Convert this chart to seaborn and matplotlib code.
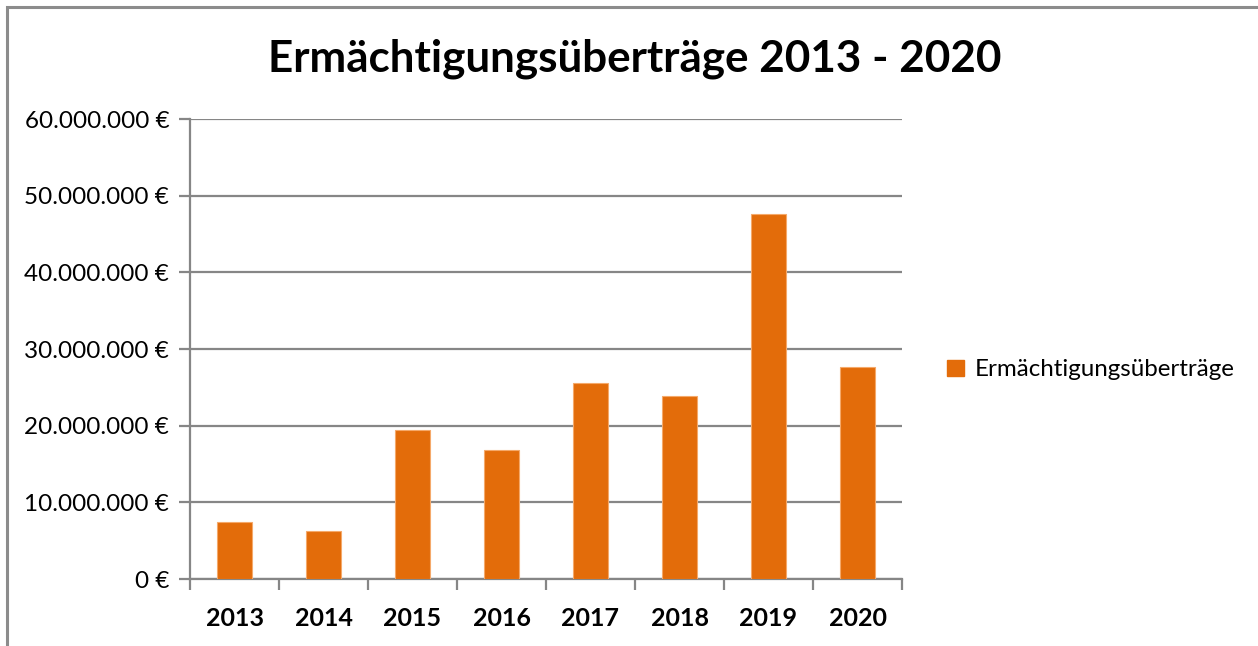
import matplotlib
matplotlib.use("Agg")
import matplotlib.pyplot as plt
import seaborn as sns
import numpy as np
import pandas as pd
from matplotlib.patches import Rectangle, Patch
from matplotlib.ticker import FuncFormatter

years = ["2013", "2014", "2015", "2016", "2017", "2018", "2019", "2020"]
values = [7.42e6, 6.20e6, 19.44e6, 16.84e6, 25.6e6, 23.87e6, 47.66e6, 27.6e6]
series_name = "Ermächtigungsüberträge"
title = "Ermächtigungsüberträge 2013 - 2020"

sns.set_theme(style="white")
plt.rcParams['font.family'] = ['Lato', 'DejaVu Sans']
plt.rcParams['text.color'] = 'black'
plt.rcParams['xtick.color'] = 'black'
plt.rcParams['ytick.color'] = 'black'

W, H = 1258, 646
fig = plt.figure(figsize=(W / 100, H / 100), dpi=100)
fig.patch.set_facecolor("white")

# outer chart frame
fig.patches.append(Rectangle((7 / W, -0.1), 1.2, 1 - 6.5 / H + 0.1, transform=fig.transFigure,
                             fill=False, edgecolor="#8c8c8c", linewidth=2.2, zorder=0))

ax = fig.add_axes([190 / W, 1 - 579 / H, (902 - 190) / W, (579 - 119) / H])
df = pd.DataFrame({"Jahr": years, "Wert": values})
orange = "#E36C0A"
sns.barplot(data=df, x="Jahr", y="Wert", color=orange, width=0.4, ax=ax,
            edgecolor="#F5A96A", linewidth=0.8, saturation=1, zorder=3)

ax.set_ylim(0, 60e6)
ax.set_xlim(-0.5, len(years) - 0.5)
ax.set_yticks(np.arange(0, 60e6 + 1, 10e6))
ax.yaxis.set_major_formatter(FuncFormatter(lambda v, p: f"{int(v):,}".replace(",", ".") + " €"))
ax.grid(axis="y", color="#868686", linewidth=1.6, zorder=0)
ax.set_axisbelow(True)

for s in ["top", "right"]:
    ax.spines[s].set_visible(False)
for s in ["left", "bottom"]:
    ax.spines[s].set_color("#868686")
    ax.spines[s].set_linewidth(1.6)

ax.tick_params(axis="y", which="major", length=8, width=1.6, color="#868686",
               labelsize=17.5, pad=7, left=True, labelcolor="black")
ax.tick_params(axis="x", which="major", length=0, labelsize=18, pad=20, labelcolor="black")
ax.set_xticks(np.arange(-0.5, len(years), 1), minor=True)
ax.tick_params(axis="x", which="minor", length=8, width=1.6, color="#868686", bottom=True)
for lab in ax.get_xticklabels():
    lab.set_fontweight("bold")
ax.set_xlabel("")
ax.set_ylabel("")

fig.text(635 / W, 1 - 59 / H, title, ha="center", va="center", fontsize=31.7,
         fontweight="bold", color="black")

handles = [Patch(facecolor=orange, edgecolor=orange, label=series_name)]
fig.legend(handles=handles, loc="center left", bbox_to_anchor=(940 / W, 1 - 370 / H),
           frameon=False, fontsize=17.4, handlelength=0.7, handleheight=0.7, handletextpad=0.45,
           borderaxespad=0, borderpad=0.3)

fig.savefig("out.png", dpi=100, facecolor="white")
